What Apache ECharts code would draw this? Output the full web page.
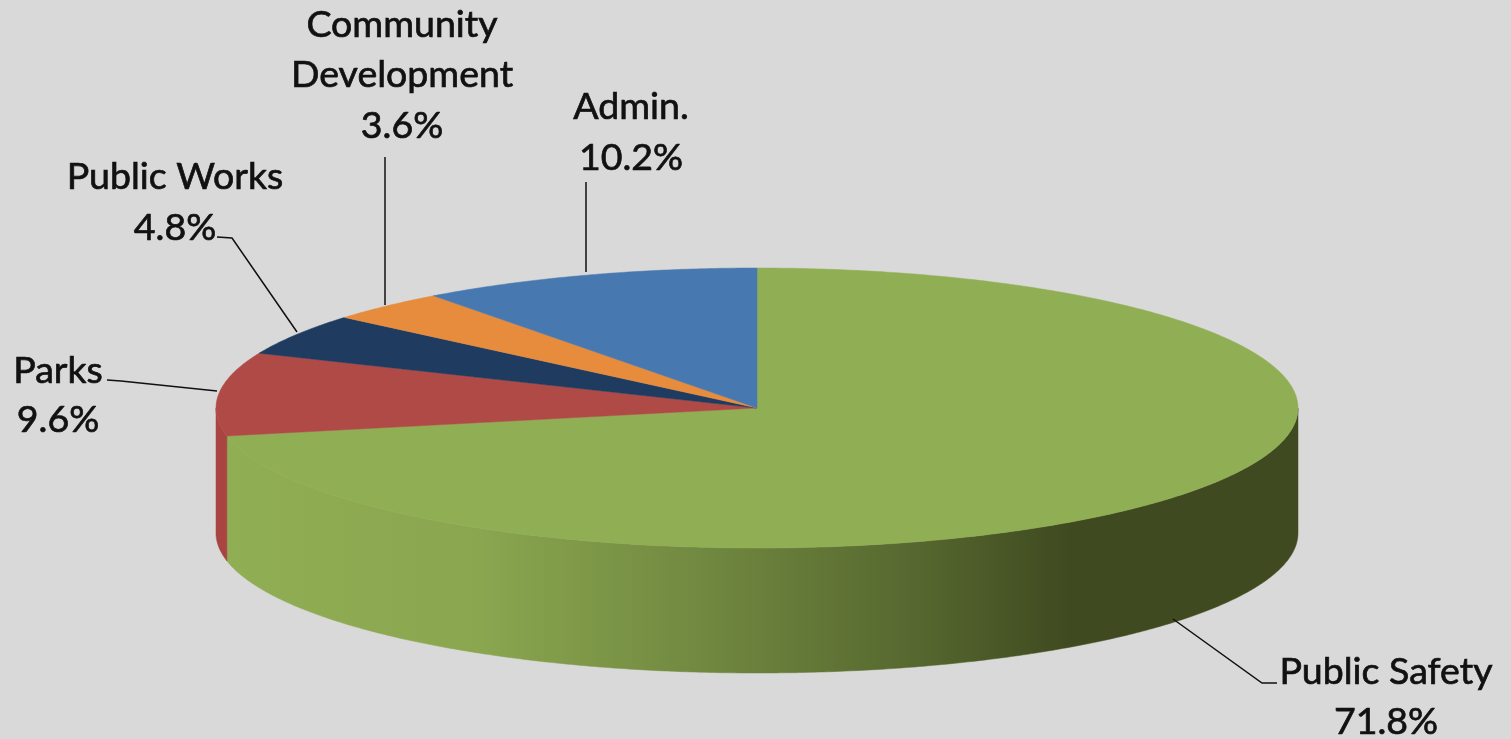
<!DOCTYPE html>
<html>
<head>
<meta charset="utf-8">
<style>html,body{margin:0;padding:0;background:#d9d9d9;overflow:hidden}#c{width:1511px;height:739px}</style>
<script src="https://cdn.jsdelivr.net/npm/echarts@6/dist/echarts.min.js"></script>
</head>
<body>
<div id="c"></div>
<script>
const categories = ['Public Safety', 'Parks', 'Public Works', 'Community Development', 'Admin.'];
const values = [71.8, 9.6, 4.8, 3.6, 10.2];
const valueLabels = ['71.8%', '9.6%', '4.8%', '3.6%', '10.2%'];

const pieGeom = { cx: 757, cy: 408, rx: 541, ry: 140, depth: 125 };
const topColors = ['#90AE54', '#B04A47', '#1F3B60', '#E68C3C', '#4878B0'];
const sideFills = [
  { type: 'linear', x: 228, y: 0, x2: 1070, y2: 0, global: true, colorStops: [
    { offset: 0, color: '#90AE54' },
    { offset: 0.3, color: '#8AA64F' },
    { offset: 0.55, color: '#728A41' },
    { offset: 0.8, color: '#586A30' },
    { offset: 1, color: '#3F4A20' }
  ] },
  '#A84543', '#1F3B60', '#E68C3C', '#4878B0'
];
const labelLayout = [
  { lines: [[1386, 672, 'Public Safety'], [1386, 722, null]], leader: [[1173, 619], [1262, 683], [1277, 683]] },
  { lines: [[58, 371, 'Parks'], [58, 420, null]], leader: [[107, 380], [121, 381], [217, 391]] },
  { lines: [[175, 177, 'Public Works'], [175, 228, null]], leader: [[217, 237], [232, 238], [297, 332]] },
  { lines: [[402, 25, 'Community'], [402, 75, 'Development'], [402, 126, null]], leader: [[385, 157], [385, 305]] },
  { lines: [[631, 107, 'Admin.'], [631, 158, null]], leader: [[586, 182], [586, 272]] }
];
const FONT = '37.5px Lato, "Open Sans", sans-serif';

function pt(deg, dy) {
  const a = deg * Math.PI / 180;
  return [pieGeom.cx + pieGeom.rx * Math.sin(a), pieGeom.cy - pieGeom.ry * Math.cos(a) + (dy || 0)];
}
function arc(a0, a1, dy) {
  const out = [];
  const n = Math.max(2, Math.ceil(Math.abs(a1 - a0) * 2));
  for (let i = 0; i <= n; i++) out.push(pt(a0 + (a1 - a0) * i / n, dy));
  return out;
}

const total = values.reduce((s, v) => s + v, 0);

function renderItem(params, api) {
  const i = params.dataIndex;
  let before = 0;
  for (let k = 0; k < i; k++) before += values[k];
  const a0 = before / total * 360;
  const a1 = a0 + api.value(0) / total * 360;
  const children = [];
  const s0 = Math.max(a0, 90), s1 = Math.min(a1, 270);
  if (s1 > s0) {
    const pts = arc(s0, s1, 0).concat(arc(s1, s0, pieGeom.depth));
    children.push({ type: 'polygon', shape: { points: pts },
      style: { fill: sideFills[i], stroke: sideFills[i], lineWidth: 0.5 } });
  }
  const top = [[pieGeom.cx, pieGeom.cy]].concat(arc(a0, a1, 0));
  children.push({ type: 'polygon', shape: { points: top },
    style: { fill: topColors[i], stroke: topColors[i], lineWidth: 0.5 } });
  const lay = labelLayout[i];
  children.push({ type: 'polyline', shape: { points: lay.leader },
    style: { stroke: '#111', lineWidth: 1.5, fill: null } });
  lay.lines.forEach(l => {
    children.push({ type: 'text', style: {
      text: l[2] === null ? valueLabels[i] : l[2], x: l[0], y: l[1],
      align: 'center', verticalAlign: 'middle', font: FONT, fill: '#111',
      stroke: '#111', lineWidth: 0.7
    } });
  });
  return { type: 'group', children };
}

const chart = echarts.init(document.getElementById('c'), null, { renderer: 'canvas' });
chart.setOption({
  animation: false,
  backgroundColor: '#D9D9D9',
  series: [{
    type: 'custom',
    coordinateSystem: 'none',
    renderItem,
    clip: false,
    data: categories.map((c, i) => ({ name: c, value: [values[i]] }))
  }]
});
</script>
</body>
</html>
